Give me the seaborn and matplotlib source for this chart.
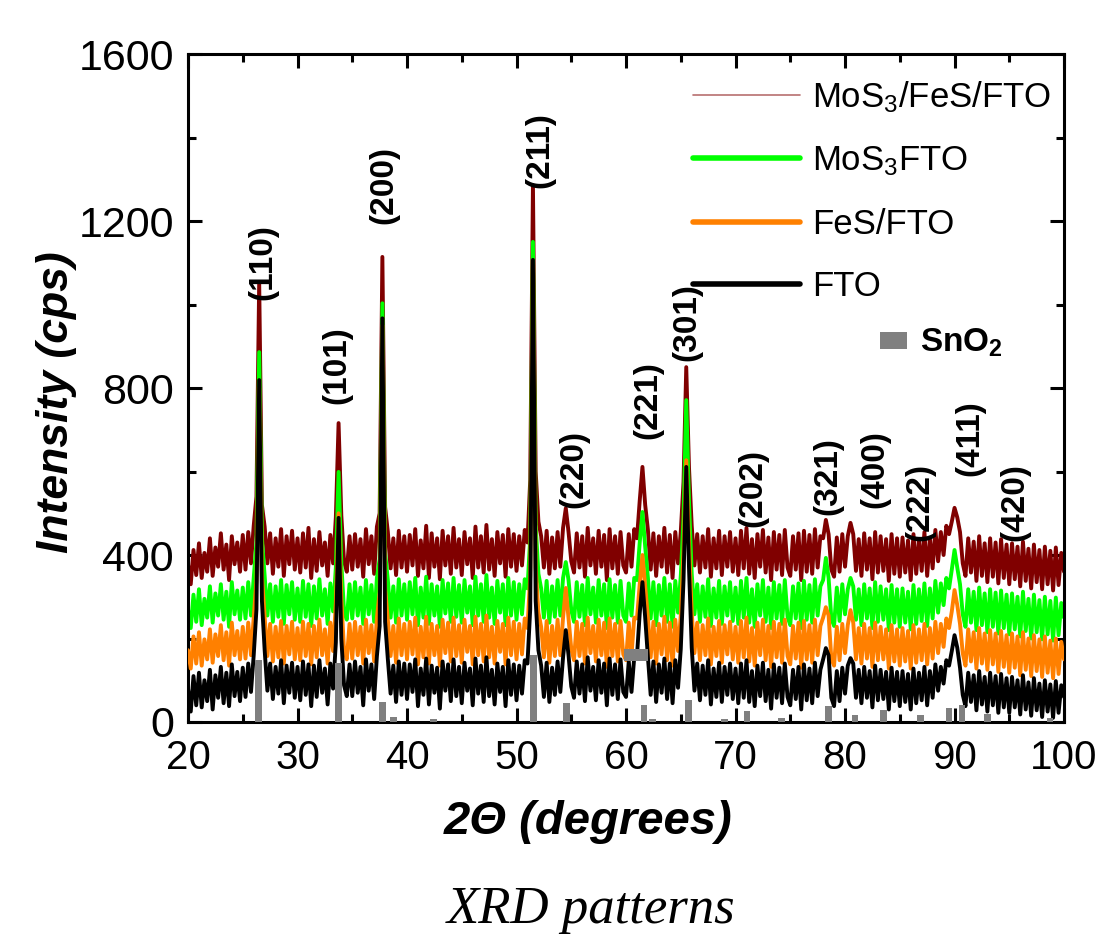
import numpy as np
import pandas as pd
import seaborn as sns
import matplotlib
matplotlib.use("Agg")
import matplotlib.pyplot as plt
from matplotlib.lines import Line2D
from matplotlib.patches import Patch
from matplotlib.ticker import MultipleLocator

# ---------------- data ----------------
two_theta = np.round(np.arange(20, 100.001, 0.25), 2)  # 321 sampling points

mos3_fes_fto = [
    378, 330, 412, 352, 428, 345, 405, 360, 440, 350, 418, 372, 452, 365, 425, 340, 445, 378, 430, 360,
    448, 365, 455, 380, 470, 540, 1054, 520, 468, 380, 452, 355, 440, 372, 462, 350, 445, 378, 458, 365,
    440, 358, 452, 370, 465, 345, 438, 362, 455, 375, 430, 350, 448, 380, 490, 716, 495, 385, 360, 445,
    365, 450, 372, 438, 348, 462, 378, 445, 355, 468, 500, 1114, 515, 455, 368, 440, 352, 458, 370, 445,
    360, 448, 375, 462, 350, 435, 368, 470, 345, 452, 372, 440, 342, 458, 375, 445, 355, 465, 370, 438,
    352, 455, 378, 440, 345, 468, 370, 445, 358, 472, 365, 438, 350, 455, 380, 448, 348, 462, 372, 450,
    362, 445, 375, 460, 430, 580, 1286, 600, 480, 445, 370, 458, 355, 442, 368, 455, 372, 465, 512, 455,
    385, 358, 452, 370, 445, 348, 465, 375, 440, 355, 458, 372, 448, 340, 462, 368, 445, 355, 455, 375,
    358, 450, 372, 462, 440, 530, 611, 520, 460, 365, 452, 350, 445, 372, 465, 358, 448, 345, 455, 380,
    455, 575, 850, 610, 470, 375, 450, 358, 445, 370, 462, 348, 440, 368, 458, 352, 445, 372, 455, 360,
    440, 352, 458, 368, 465, 355, 438, 345, 450, 372, 460, 358, 442, 340, 455, 365, 448, 352, 460, 370,
    350, 445, 365, 452, 340, 458, 360, 448, 355, 462, 370, 445, 440, 484, 450, 365, 348, 442, 360, 450,
    372, 445, 477, 450, 362, 438, 350, 452, 365, 440, 342, 455, 358, 445, 362, 438, 338, 450, 355, 440,
    348, 442, 358, 435, 340, 450, 355, 438, 362, 455, 350, 440, 368, 460, 385, 455, 400, 470, 450, 480,
    513, 490, 455, 380, 350, 440, 358, 432, 338, 445, 350, 428, 335, 440, 348, 430, 332, 438, 345, 425,
    330, 428, 342, 420, 325, 432, 338, 415, 320, 425, 335, 412, 318, 420, 330, 410, 315, 418, 328, 405,
    360,
]

mos3_fto = [
    270, 225, 305, 240, 318, 232, 295, 250, 325, 238, 308, 255, 330, 245, 312, 228, 335, 258, 315, 245,
    322, 248, 335, 255, 345, 430, 886, 440, 350, 255, 330, 240, 325, 252, 340, 235, 328, 258, 335, 245,
    320, 240, 338, 252, 330, 230, 325, 248, 342, 255, 318, 235, 332, 265, 370, 599, 380, 265, 245, 330,
    248, 335, 255, 322, 235, 340, 258, 328, 240, 345, 390, 1003, 405, 340, 250, 325, 238, 342, 255, 330,
    245, 335, 258, 345, 232, 322, 250, 348, 235, 330, 255, 325, 228, 340, 260, 332, 240, 345, 252, 328,
    238, 340, 262, 325, 232, 348, 255, 330, 240, 352, 250, 322, 235, 338, 262, 330, 232, 345, 255, 335,
    245, 330, 258, 342, 320, 440, 1150, 470, 355, 320, 250, 338, 238, 325, 252, 340, 255, 345, 383, 340,
    268, 240, 335, 252, 328, 232, 345, 258, 322, 238, 340, 255, 330, 225, 342, 250, 328, 238, 338, 255,
    240, 332, 255, 345, 340, 430, 503, 420, 345, 248, 335, 232, 328, 255, 345, 240, 330, 228, 338, 262,
    350, 490, 771, 530, 355, 258, 330, 240, 325, 252, 342, 230, 320, 250, 338, 235, 325, 255, 335, 242,
    322, 235, 338, 250, 345, 238, 318, 228, 330, 255, 340, 240, 322, 225, 335, 248, 328, 235, 340, 252,
    232, 325, 248, 332, 225, 338, 245, 328, 238, 342, 255, 325, 340, 393, 345, 248, 230, 322, 242, 330,
    258, 318, 345, 325, 245, 318, 232, 330, 248, 320, 225, 335, 240, 325, 245, 318, 220, 328, 238, 318,
    228, 320, 238, 312, 222, 328, 235, 318, 242, 332, 230, 320, 248, 338, 262, 332, 280, 345, 320, 365,
    412, 370, 330, 258, 228, 318, 238, 312, 220, 322, 232, 308, 215, 318, 228, 310, 212, 315, 225, 305,
    210, 308, 222, 300, 205, 312, 218, 295, 200, 305, 215, 292, 198, 300, 210, 290, 195, 298, 208, 285,
    250,
]

fes_fto = [
    172, 128, 205, 140, 215, 135, 198, 150, 222, 142, 210, 158, 232, 148, 215, 135, 238, 160, 218, 150,
    228, 152, 238, 160, 250, 340, 800, 350, 252, 158, 235, 145, 228, 155, 242, 140, 230, 162, 240, 150,
    225, 148, 240, 158, 235, 138, 230, 155, 245, 160, 222, 140, 238, 170, 285, 500, 295, 172, 150, 235,
    152, 240, 160, 228, 140, 245, 165, 232, 145, 250, 310, 950, 320, 245, 158, 230, 142, 248, 160, 235,
    150, 240, 162, 250, 138, 228, 155, 252, 140, 235, 160, 230, 135, 245, 165, 238, 145, 250, 158, 232,
    142, 245, 168, 230, 138, 252, 160, 235, 145, 255, 155, 228, 140, 242, 168, 235, 138, 250, 160, 240,
    150, 235, 162, 248, 225, 350, 1090, 370, 262, 228, 155, 242, 142, 230, 158, 245, 160, 250, 321, 248,
    175, 148, 240, 158, 235, 140, 250, 165, 230, 145, 245, 160, 238, 132, 248, 158, 235, 145, 242, 162,
    148, 238, 160, 250, 248, 330, 400, 325, 250, 155, 240, 140, 235, 162, 252, 148, 238, 135, 245, 170,
    255, 410, 627, 430, 262, 165, 238, 148, 232, 160, 248, 138, 228, 158, 242, 142, 232, 162, 240, 150,
    228, 142, 242, 155, 250, 145, 225, 135, 238, 160, 245, 148, 230, 132, 240, 155, 235, 142, 245, 158,
    138, 230, 152, 238, 130, 242, 150, 232, 142, 245, 160, 230, 250, 275, 255, 152, 135, 228, 148, 235,
    165, 232, 268, 238, 150, 225, 140, 235, 152, 225, 132, 238, 148, 228, 150, 222, 128, 232, 145, 222,
    135, 225, 145, 218, 128, 232, 142, 222, 148, 235, 138, 225, 152, 240, 165, 235, 180, 248, 225, 265,
    316, 280, 235, 165, 135, 222, 145, 215, 128, 225, 140, 212, 125, 220, 138, 212, 120, 218, 132, 208,
    118, 212, 130, 205, 112, 215, 125, 200, 110, 208, 122, 198, 108, 205, 118, 195, 105, 200, 115, 192,
    150,
]

fto = [
    80, 25, 110, 40, 118, 35, 100, 50, 125, 30, 112, 58, 132, 45, 118, 38, 138, 62, 120, 50,
    130, 60, 140, 72, 160, 270, 819, 290, 172, 75, 140, 55, 132, 68, 148, 45, 135, 70, 142, 58,
    132, 52, 145, 65, 138, 38, 135, 60, 148, 70, 128, 42, 140, 80, 190, 489, 200, 88, 62, 138,
    62, 145, 70, 132, 40, 150, 75, 138, 55, 158, 230, 967, 240, 150, 68, 135, 48, 145, 65, 140,
    55, 138, 72, 150, 38, 128, 65, 152, 42, 135, 70, 130, 32, 145, 75, 138, 50, 150, 62, 132,
    45, 142, 75, 128, 40, 152, 68, 135, 48, 155, 62, 125, 42, 140, 72, 132, 38, 148, 65, 138,
    52, 135, 68, 148, 140, 270, 1107, 290, 172, 135, 60, 142, 48, 130, 65, 145, 72, 155, 220, 160,
    85, 58, 145, 68, 138, 50, 155, 75, 132, 52, 148, 70, 140, 40, 152, 65, 138, 55, 150, 72,
    60, 145, 72, 155, 158, 260, 335, 250, 155, 65, 145, 48, 138, 70, 152, 55, 140, 45, 148, 82,
    175, 340, 611, 370, 178, 75, 140, 52, 135, 65, 148, 42, 128, 60, 142, 48, 132, 65, 140, 55,
    128, 45, 140, 58, 148, 48, 122, 38, 135, 62, 142, 50, 125, 32, 138, 58, 130, 45, 140, 60,
    40, 125, 55, 132, 30, 138, 52, 128, 45, 142, 62, 125, 150, 177, 160, 58, 38, 122, 50, 130,
    68, 135, 153, 140, 58, 125, 45, 132, 58, 122, 35, 135, 52, 125, 55, 120, 30, 130, 50, 120,
    38, 122, 48, 115, 30, 128, 45, 118, 52, 132, 40, 122, 58, 138, 75, 132, 92, 148, 135, 170,
    208, 178, 130, 65, 38, 118, 48, 112, 28, 122, 42, 108, 25, 118, 40, 110, 22, 115, 35, 105,
    22, 108, 35, 100, 18, 112, 30, 95, 15, 105, 28, 92, 12, 100, 25, 90, 10, 98, 22, 88,
    60,
]

series_names = ["MoS$_3$/FeS/FTO", "MoS$_3$FTO", "FeS/FTO", "FTO"]
series_values = [mos3_fes_fto, mos3_fto, fes_fto, fto]
series_colors = ["#800000", "#00ff00", "#ff8000", "#000000"]

# SnO2 reference pattern (position, intensity)
sno2_pos = [26.45, 33.75, 37.75, 38.75, 42.4, 51.55, 54.55, 61.65, 62.4, 65.7, 69.0,
            71.05, 74.2, 78.5, 80.9, 83.5, 86.9, 89.5, 90.7, 93.0, 98.7]
sno2_int = [148, 142, 48, 13, 7, 160, 45, 40, 8, 53, 7,
            26, 9, 39, 17, 29, 17, 34, 41, 19, 9]
# stray grey block (x-centre, bottom, height, width)
block_x, block_bottom, block_height, block_width = 60.9, 146, 29, 2.2

hkl_labels = ["(110)", "(101)", "(200)", "(211)", "(220)", "(221)", "(301)",
              "(202)", "(321)", "(400)", "(222)", "(411)", "(420)"]
hkl_x = [26.85, 33.6, 37.9, 52.1, 55.2, 62.0, 65.6, 71.6, 78.4, 82.7, 86.85, 91.4, 95.5]
hkl_y = [1102, 855, 1286, 1370, 606, 771, 958, 560, 589, 606, 527, 680, 527]

# ---------------- style ----------------
sns.set_style("ticks")
plt.rcParams["font.family"] = ["Liberation Sans", "DejaVu Sans"]
plt.rcParams["mathtext.fontset"] = "custom"
plt.rcParams["mathtext.rm"] = "Liberation Sans"
plt.rcParams["mathtext.it"] = "Liberation Sans:italic"
plt.rcParams["mathtext.bf"] = "Liberation Sans:bold"
for key in ["text.color", "axes.labelcolor", "xtick.color", "ytick.color", "axes.edgecolor"]:
    plt.rcParams[key] = "black"

fig = plt.figure(figsize=(11.04, 9.48), dpi=100)
ax = fig.add_axes([0.1703, 0.2384, 0.7935, 0.7046])

frames = []
for name, vals in zip(series_names, series_values):
    frames.append(pd.DataFrame({"two_theta": two_theta, "intensity": vals, "sample": name}))
df = pd.concat(frames, ignore_index=True)

for i, (name, col) in enumerate(zip(series_names, series_colors)):
    sub = df[df["sample"] == name]
    sns.lineplot(data=sub, x="two_theta", y="intensity", color=col, lw=2.8,
                 estimator=None, sort=False, ax=ax, zorder=1 + i, legend=False)

ax.bar(sno2_pos, sno2_int, width=0.6, color="#808080", zorder=10, linewidth=0)
ax.bar([block_x], [block_height], bottom=[block_bottom], width=block_width,
       color="#808080", zorder=10, linewidth=0)

for lab, x, y in zip(hkl_labels, hkl_x, hkl_y):
    ax.text(x, y, lab, rotation=90, ha="center", va="center",
            fontsize=24, fontweight="bold", zorder=12)

ax.set_xlim(20, 100)
ax.set_ylim(0, 1600)
ax.xaxis.set_major_locator(MultipleLocator(10))
ax.xaxis.set_minor_locator(MultipleLocator(5))
ax.yaxis.set_major_locator(MultipleLocator(400))
ax.yaxis.set_minor_locator(MultipleLocator(200))
ax.tick_params(which="both", direction="in", top=True, right=True, width=2.2, colors="black")
ax.tick_params(which="major", length=10)
ax.tick_params(which="minor", length=6)
ax.tick_params(axis="x", which="major", labelsize=29, pad=12)
ax.tick_params(axis="y", which="major", labelsize=31, pad=10)
for sp in ax.spines.values():
    sp.set_linewidth(2.2)
    sp.set_color("black")

ax.set_xlabel("2\u0398 (degrees)", fontsize=34, fontweight="bold", fontstyle="italic")
ax.set_ylabel("Intensity (cps)", fontsize=32, fontweight="bold", fontstyle="italic")
ax.xaxis.set_label_coords(0.457, -0.150)
ax.yaxis.set_label_coords(-0.150, 0.479)
ax.xaxis.label.set_va("center")
ax.yaxis.label.set_va("center")

handles = [Line2D([], [], color="#b77070", lw=1.2),
           Line2D([], [], color="#00ff00", lw=4),
           Line2D([], [], color="#ff8000", lw=4),
           Line2D([], [], color="#000000", lw=4)]
leg1 = ax.legend(handles, series_names, loc="upper left", bbox_to_anchor=(0.576, 0.962),
                 frameon=False, fontsize=25, handlelength=3.1, handletextpad=0.35,
                 labelspacing=0.85, borderaxespad=0, borderpad=0)
ax.add_artist(leg1)
leg2 = ax.legend([Patch(facecolor="#808080", edgecolor="none")], ["SnO$_\\mathbf{2}$"],
                 loc="center left", bbox_to_anchor=(0.79, 0.567), frameon=False,
                 prop={"size": 24, "weight": "bold"}, handlelength=0.8, handleheight=0.4,
                 handletextpad=0.4, borderaxespad=0, borderpad=0)

fig.text(0.535, 0.040, "XRD patterns", ha="center", va="center", fontsize=38,
         family=["Liberation Serif", "DejaVu Serif"], style="italic")

fig.savefig("out.png", dpi=100)
